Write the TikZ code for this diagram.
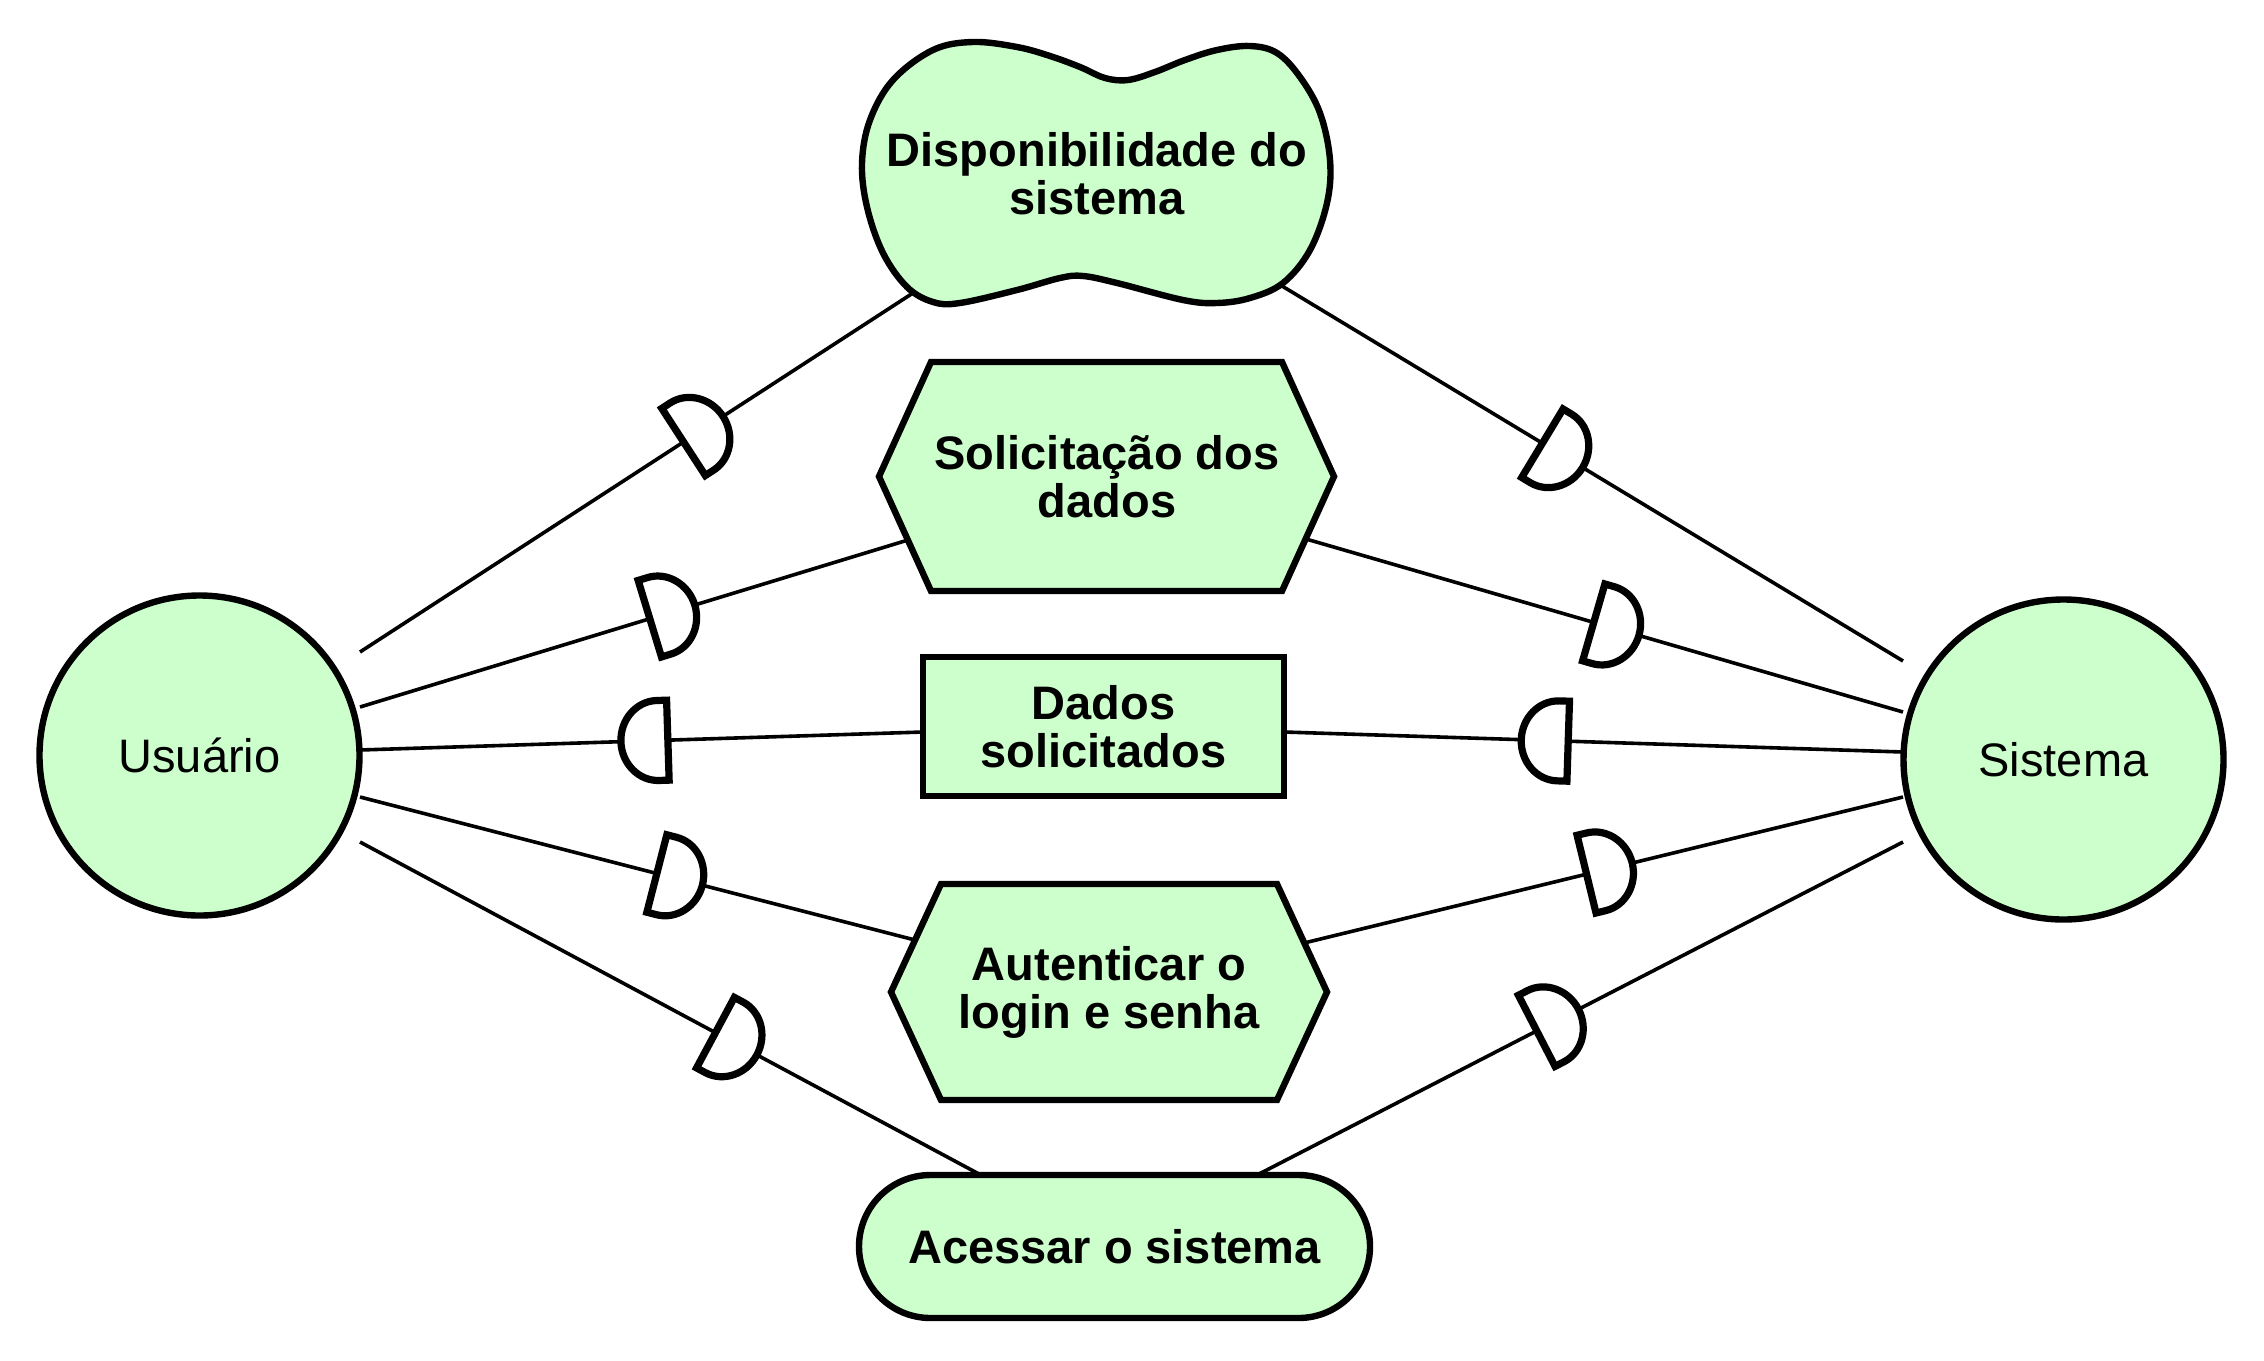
\documentclass[tikz,border=0pt]{standalone}
\usepackage{fontspec}
\setmainfont{Liberation Sans}
\usetikzlibrary{calc}
\definecolor{nodegreen}{RGB}{204,255,204}
\tikzset{
  shapeline/.style={draw=black, line width=3.2pt, fill=nodegreen},
  conn/.style={draw=black, line width=1.8pt},
  lbl/.style={font=\fontsize{23.5}{24}\selectfont\bfseries, align=center, inner sep=0pt},
  actorlbl/.style={font=\fontsize{23.5}{24}\selectfont},
  gatefwd/.pic={\draw[line width=3.6pt, fill=white, line join=miter]
    (-23,-40) -- (-23,40) -- (-13,40) .. controls (7.4,40) and (24,22) .. (24,0)
    .. controls (24,-22) and (7.4,-40) .. (-13,-40) -- cycle;},
  gaterev/.pic={\draw[line width=3.6pt, fill=white, line join=miter]
    (23,-40) -- (23,40) -- (13,40) .. controls (-7.4,40) and (-24,22) .. (-24,0)
    .. controls (-24,-22) and (-7.4,-40) .. (13,-40) -- cycle;},
  gpos/.style={pos=#1, sloped, allow upside down}
}
\begin{document}
\begin{tikzpicture}[x=0.5pt, y=-0.5pt]
\useasboundingbox (0,0) rectangle (2264,1360);

% actors
\node[shapeline, circle, minimum size=160pt, inner sep=0pt, actorlbl] (U) at (199.5,755.5) {Usuário};
\node[shapeline, circle, minimum size=160pt, inner sep=0pt, actorlbl] (S) at (2063.5,759.5) {Sistema};

% connector end points
\coordinate (u1) at (360,652);
\coordinate (u2) at (360,707);
\coordinate (u3) at (360,750);
\coordinate (u4) at (360,797);
\coordinate (u5) at (360,842);
\coordinate (s1) at (1903,661);
\coordinate (s2) at (1903,712);
\coordinate (s3) at (1903,752);
\coordinate (s4) at (1903,797);
\coordinate (s5) at (1903,842);
\coordinate (cL) at (913,293);
\coordinate (cR) at (1282,286);
\coordinate (solL) at (908,540);
\coordinate (solR) at (1306,539);
\coordinate (datL) at (923,732);
\coordinate (datR) at (1284,732);
\coordinate (autL) at (915,940);
\coordinate (autR) at (1304,943);
\coordinate (accL) at (979,1174);
\coordinate (accR) at (1259,1174);

% connectors
\draw[conn] (u1) -- (cL);
\draw[conn] (u2) -- (solL);
\draw[conn] (u3) -- (datL);
\draw[conn] (u4) -- (autL);
\draw[conn] (u5) -- (accL);
\draw[conn] (cR) -- (s1);
\draw[conn] (solR) -- (s2);
\draw[conn] (datR) -- (s3);
\draw[conn] (autR) -- (s4);
\draw[conn] (accR) -- (s5);

% gates
\path (u1) -- (cL) pic[gpos=0.62]{gatefwd};
\path (u2) -- (solL) pic[gpos=0.569]{gatefwd};
\path (u3) -- (datL) pic[gpos=0.506]{gaterev};
\path (u4) -- (autL) pic[gpos=0.575]{gatefwd};
\path (u5) -- (accL) pic[gpos=0.607]{gatefwd};
\path (cR) -- (s1) pic[gpos=0.451]{gatefwd};
\path (solR) -- (s2) pic[gpos=0.519]{gatefwd};
\path (datR) -- (s3) pic[gpos=0.422]{gaterev};
\path (autR) -- (s4) pic[gpos=0.509]{gatefwd};
\path (accR) -- (s5) pic[gpos=0.463]{gatefwd};

% softgoal cloud
\draw[shapeline, line join=round] plot[smooth cycle, tension=0.6] coordinates {
  (1128,80) (1155,72) (1185,60) (1217,50) (1250,46) (1277,53) (1300,77) (1320,113)
  (1330,160) (1327,203) (1310,250) (1283,283) (1250,298) (1217,303) (1183,300)
  (1117,283) (1083,276) (1060,278) (1017,290) (960,303) (933,302) (907,287)
  (883,253) (867,207) (862,163) (870,120) (893,80) (933,50) (973,42) (1017,47)
  (1050,56) (1080,67) (1105,78)};
\node[lbl] (cloud) at (1097,174) {Disponibilidade do\\sistema};

% hexagon: Solicitacao dos dados
\draw[shapeline, line join=miter] (879,476.5) -- (931,362) -- (1282,362) -- (1334,476.5) -- (1282,591) -- (931,591) -- cycle;
\node[lbl] (sol) at (1107,477) {Solicitação dos\\dados};

% resource: Dados solicitados
\node[shapeline, rectangle, minimum width=180.5pt, minimum height=69.5pt, inner sep=0pt, lbl] (dat) at (1103.5,726.5) {Dados\\solicitados};

% hexagon: Autenticar
\draw[shapeline, line join=miter] (891,992) -- (941,884) -- (1277,884) -- (1327,992) -- (1277,1100) -- (941,1100) -- cycle;
\node[lbl] (aut) at (1109,992) {Autenticar o\\login e senha};

% goal: Acessar o sistema
\node[shapeline, rectangle, rounded corners=35.75pt, minimum width=255.5pt, minimum height=71.5pt, inner sep=0pt, lbl] (acc) at (1114.5,1246.5) {Acessar o sistema};
\end{tikzpicture}
\end{document}
